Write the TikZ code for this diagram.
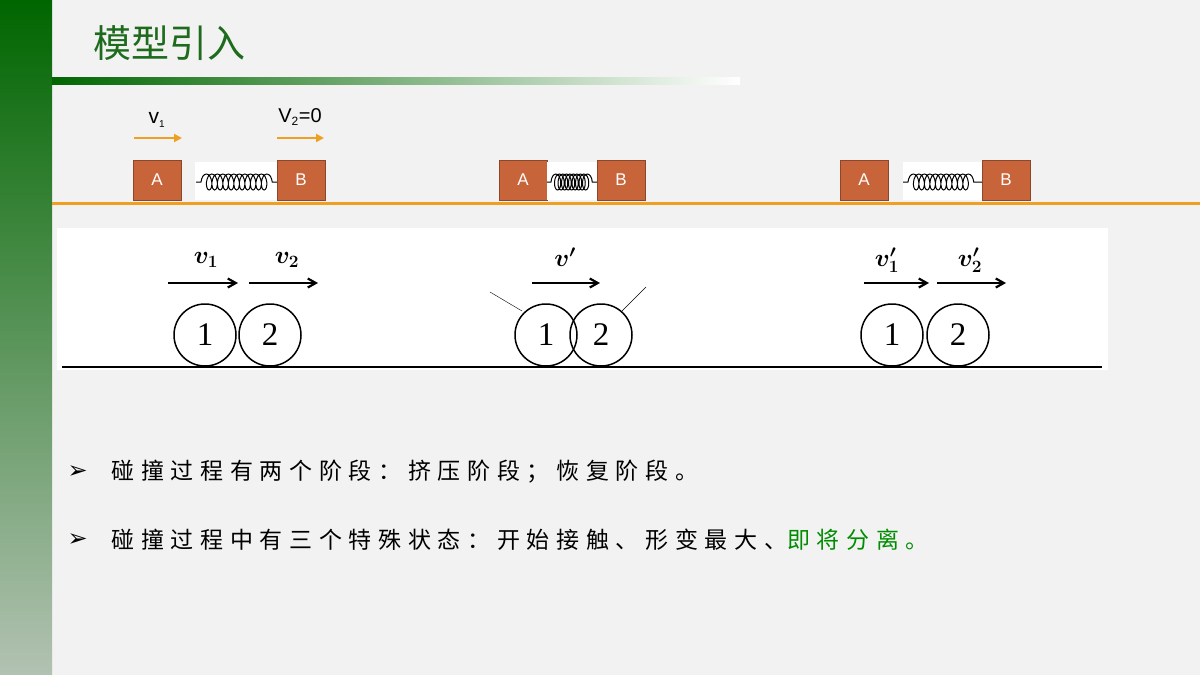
\documentclass[tikz,border=0pt]{standalone}
\usepackage{bm}
\usepackage{fontspec}
\setmainfont{Liberation Serif}
\newfontfamily\cjk{Noto Sans CJK SC}
\newfontfamily\cjkw[LetterSpace=29]{Noto Sans CJK SC}
\newfontfamily\lsans{Liberation Sans}
\newfontfamily\dv{DejaVu Sans}
\usetikzlibrary{decorations.pathmorphing,arrows.meta}
\definecolor{tgreen}{HTML}{1E6B1E}
\definecolor{blk}{HTML}{C8643A}
\definecolor{orng}{HTML}{F0A020}
\tikzset{
 blockbox/.style={draw=blk!70!black,fill=blk,text=white,minimum width=48pt,minimum height=40pt,inner sep=0pt,font=\lsans\fontsize{17}{17}\selectfont},
 oarrow/.style={orng,line width=2.2pt,-{Triangle[length=8pt,width=8pt]}},
 barrow/.style={black,line width=2.2pt,-{Straight Barb[length=8pt,width=9pt]}},
 ball/.style={circle,draw,line width=1.5pt,fill=white,minimum size=62pt,inner sep=0pt,font=\fontsize{33}{33}\selectfont},
 spr/.style={decorate,decoration={coil,segment length=5.5pt,amplitude=8pt,pre length=5pt,post length=3pt},line width=1pt},
 bl/.style={font=\fontsize{26}{26}\selectfont},
 bul/.style={anchor=west,font=\cjkw\fontsize{23}{23}\selectfont}
}
\begin{document}
\begin{tikzpicture}[x=1pt,y=-1pt]
\useasboundingbox (0,0) rectangle (1200,675);
\fill[gray!10] (0,0) rectangle (1200,675);
\shade[top color=green!40!black,bottom color=green!20!black!30!white] (0,0) rectangle (52,675);
\node[anchor=west,text=tgreen,font=\cjk\fontsize{38}{38}\selectfont] (title) at (90,43) {模型引入};
\shade[left color=green!40!black,right color=white] (52,77) rectangle (740,84);
\draw[orng,line width=3pt] (52,203) -- (1200,203);
\foreach \ax/\bx/\n in {157/301/a,523/621/b,864/1006/c}{
 \node[blockbox] (A\n) at (\ax,180) {A};
 \node[blockbox] (B\n) at (\bx,180) {B};
}
\fill[white] (195,162) rectangle (277,200);
\fill[white] (547,162) rectangle (597,200);
\fill[white] (903,162) rectangle (982,200);
\coordinate (sa1) at (196,182); \coordinate (sa2) at (277,182);
\coordinate (sb1) at (547,182); \coordinate (sb2) at (597,182);
\coordinate (sc1) at (903,182); \coordinate (sc2) at (982,182);
\draw[spr] (sa1) -- (sa2);
\draw[spr,decoration={coil,segment length=3.5pt,amplitude=8pt,pre length=4pt,post length=3pt}] (sb1) -- (sb2);
\draw[spr] (sc1) -- (sc2);
\coordinate (o1) at (134,138); \coordinate (o2) at (182,138);
\coordinate (o3) at (277,138); \coordinate (o4) at (324,138);
\draw[oarrow] (o1) -- (o2);
\draw[oarrow] (o3) -- (o4);
\node[font=\lsans\fontsize{21}{21}\selectfont] (lv1) at (157,120) {v\textsubscript{\fontsize{10}{10}\selectfont 1}};
\node[font=\lsans\fontsize{20}{20}\selectfont] (lv2) at (300,117) {V\textsubscript{\fontsize{12}{12}\selectfont 2}=0};
\fill[white] (57,228) rectangle (1108,370);
\draw[line width=1.5pt] (62,367) -- (1102,367);
\node[ball] (b1) at (205,335) {1};
\node[ball] (b2) at (270,335) {2};
\coordinate (c1) at (490,292); \coordinate (c2) at (522,311);
\coordinate (c3) at (646,287); \coordinate (c4) at (622,311);
\draw[thin] (c1) -- (c2); \draw[thin] (c3) -- (c4);
\node[ball] (m1) at (546,335) {1};
\node[ball] (m2) at (601,335) {2};
\begin{scope}
\clip (601,335) circle (31);
\draw[line width=1.5pt] (546,335) circle (31);
\end{scope}
\node[ball] (r1) at (892,335) {1};
\node[ball] (r2) at (958,335) {2};
\foreach \s/\e/\y in {168/238/283,249/318/283,532/600/283,864/929/283,937/1006/283}{
 \coordinate (p\s) at (\s,\y); \coordinate (q\s) at (\e,\y);
 \draw[barrow] (p\s) -- (q\s);
}
\node[bl] (lab1) at (206,260) {$\bm{v_1}$};
\node[bl] (lab2) at (287,260) {$\bm{v_2}$};
\node[bl] (lab3) at (565,257) {$\bm{v'}$};
\node[bl] (lab4) at (887,260) {$\bm{v_1'}$};
\node[bl] (lab5) at (970,260) {$\bm{v_2'}$};
\node[anchor=west,font=\dv\fontsize{24}{24}\selectfont] (k1) at (64,472) {➢};
\node[bul] (t1) at (108,472) {碰撞过程有两个阶段：挤压阶段；恢复阶段。};
\node[anchor=west,font=\dv\fontsize{24}{24}\selectfont] (k2) at (64,540) {➢};
\node[bul] (t2) at (108,540) {碰撞过程中有三个特殊状态：开始接触、形变最大、\textcolor{green!55!black}{即将分离。}};
\end{tikzpicture}
\end{document}
